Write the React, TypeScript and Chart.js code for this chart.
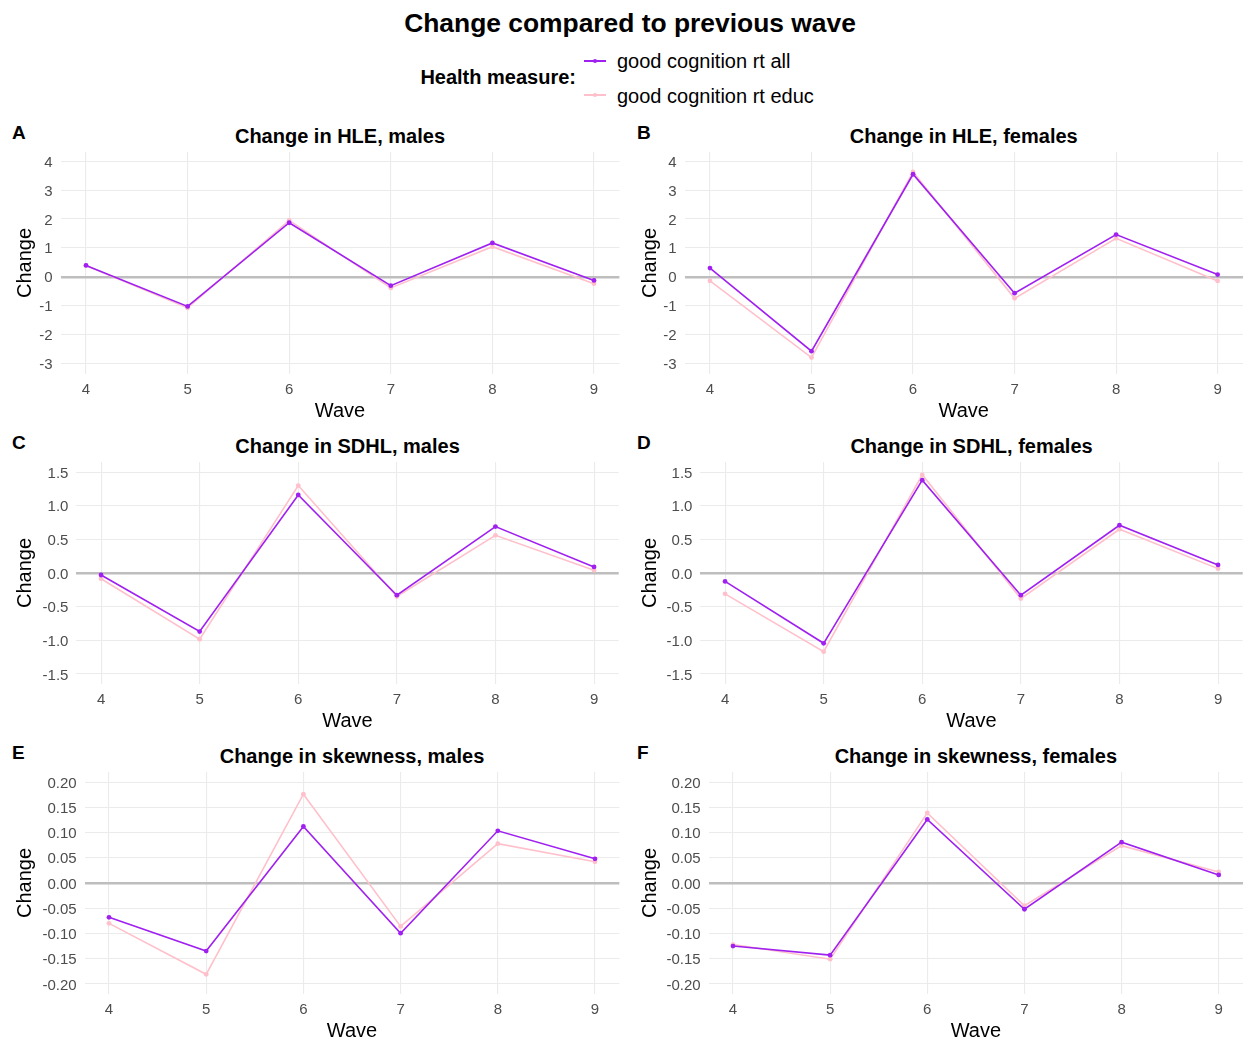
import React, { useEffect, useRef } from "react";
import { Chart, registerables } from "chart.js";

Chart.register(...registerables);

// ---- data ----
const waves = [4, 5, 6, 7, 8, 9];
const seriesNames = ["good cognition rt all", "good cognition rt educ"];

const hleMalesAll = [0.39, -1.03, 1.87, -0.31, 1.17, -0.13];
const hleMalesEduc = [0.39, -1.08, 1.95, -0.39, 1.04, -0.24];
const hleFemalesAll = [0.3, -2.58, 3.55, -0.57, 1.46, 0.075];
const hleFemalesEduc = [-0.145, -2.8, 3.63, -0.75, 1.33, -0.145];

const sdhlMalesAll = [-0.03, -0.87, 1.16, -0.33, 0.69, 0.09];
const sdhlMalesEduc = [-0.085, -0.985, 1.3, -0.35, 0.56, 0.04];
const sdhlFemalesAll = [-0.125, -1.045, 1.38, -0.33, 0.71, 0.12];
const sdhlFemalesEduc = [-0.31, -1.17, 1.46, -0.38, 0.65, 0.065];

const skewMalesAll = [-0.068, -0.135, 0.112, -0.0995, 0.1035, 0.048];
const skewMalesEduc = [-0.08, -0.181, 0.176, -0.086, 0.078, 0.042];
const skewFemalesAll = [-0.125, -0.143, 0.126, -0.052, 0.081, 0.016];
const skewFemalesEduc = [-0.122, -0.151, 0.139, -0.045, 0.074, 0.022];

const hleTicks = [-3, -2, -1, 0, 1, 2, 3, 4];
const sdhlTicks = [-1.5, -1, -0.5, 0, 0.5, 1, 1.5];
const skewTicks = [-0.2, -0.15, -0.1, -0.05, 0, 0.05, 0.1, 0.15, 0.2];

// ---- styling ----
const FONT = '"Liberation Sans", Arial, sans-serif';
const COLORS = ["#A020F0", "#FFC0CB"];
const GRID = "#EBEBEB";
const ZERO = "#BEBEBE";
const TICK_COLOR = "#4D4D4D";

const ROW_TOP = [152.3, 462.3, 772.3];
const ROW_BOTTOM = [373.3, 683.3, 993.3];
const COL_X = [0, 622];
const COL_W = [622, 621];
const X_AXIS_H = 51;
const PAD_TOP = 4;

type PanelDef = {
  tag: string;
  title: string;
  all: number[];
  educ: number[];
  ticks: number[];
  decimals: number;
  yMin: number;
  yMax: number;
  row: number;
  col: number;
  plotLeft: number;
  plotRight: number;
  padLeft: number;
};

const panels: PanelDef[] = [
  { tag: "A", title: "Change in HLE, males", all: hleMalesAll, educ: hleMalesEduc, ticks: hleTicks, decimals: 0, yMin: -3.37, yMax: 4.32, row: 0, col: 0, plotLeft: 60.6, plotRight: 619.4, padLeft: 9 },
  { tag: "B", title: "Change in HLE, females", all: hleFemalesAll, educ: hleFemalesEduc, ticks: hleTicks, decimals: 0, yMin: -3.37, yMax: 4.32, row: 0, col: 1, plotLeft: 62.6, plotRight: 621, padLeft: 12 },
  { tag: "C", title: "Change in SDHL, males", all: sdhlMalesAll, educ: sdhlMalesEduc, ticks: sdhlTicks, decimals: 1, yMin: -1.65, yMax: 1.65, row: 1, col: 0, plotLeft: 76.4, plotRight: 618.7, padLeft: 9 },
  { tag: "D", title: "Change in SDHL, females", all: sdhlFemalesAll, educ: sdhlFemalesEduc, ticks: sdhlTicks, decimals: 1, yMin: -1.65, yMax: 1.65, row: 1, col: 1, plotLeft: 78.4, plotRight: 620.7, padLeft: 12 },
  { tag: "E", title: "Change in skewness, males", all: skewMalesAll, educ: skewMalesEduc, ticks: skewTicks, decimals: 2, yMin: -0.22, yMax: 0.22, row: 2, col: 0, plotLeft: 84.7, plotRight: 619.3, padLeft: 9 },
  { tag: "F", title: "Change in skewness, females", all: skewFemalesAll, educ: skewFemalesEduc, ticks: skewTicks, decimals: 2, yMin: -0.22, yMax: 0.22, row: 2, col: 1, plotLeft: 86.7, plotRight: 621, padLeft: 12 },
];

function Panel({ def }: { def: PanelDef }) {
  const ref = useRef<HTMLCanvasElement | null>(null);
  const width = COL_W[def.col];
  const plotH = ROW_BOTTOM[def.row] - ROW_TOP[def.row];
  const height = Math.round(PAD_TOP + plotH + X_AXIS_H + 1);
  const left = COL_X[def.col];
  const top = ROW_TOP[def.row] - PAD_TOP;

  useEffect(() => {
    if (!ref.current) return;
    const makeSet = (label: string, values: number[], color: string) => ({
      label,
      data: waves.map((w, i) => ({ x: w, y: values[i] })),
      borderColor: color,
      backgroundColor: color,
      pointBackgroundColor: color,
      pointBorderColor: color,
      borderWidth: 1.6,
      pointRadius: 2.4,
      pointBorderWidth: 0,
      tension: 0,
      clip: 6,
    });
    const chart = new Chart(ref.current, {
      type: "line",
      data: {
        datasets: [
          makeSet(seriesNames[0], def.all, COLORS[0]),
          makeSet(seriesNames[1], def.educ, COLORS[1]),
        ],
      },
      options: {
        animation: false,
        responsive: false,
        events: [],
        layout: {
          autoPadding: false,
          padding: { left: def.padLeft, right: width - def.plotRight, top: PAD_TOP, bottom: 0 },
        },
        plugins: {
          legend: { display: false },
          tooltip: { enabled: false },
          title: { display: false },
        },
        scales: {
          x: {
            type: "linear",
            min: 3.75,
            max: 9.25,
            afterBuildTicks: (s: any) => {
              s.ticks = waves.map((v) => ({ value: v }));
            },
            afterFit: (s: any) => {
              s.height = X_AXIS_H;
              s.paddingLeft = 0;
              s.paddingRight = 0;
            },
            grid: { color: GRID, lineWidth: 1.1, drawTicks: false },
            border: { display: false },
            ticks: {
              padding: 7,
              color: TICK_COLOR,
              font: { family: FONT, size: 15 },
              callback: (v: any) => String(v),
            },
            title: {
              display: true,
              text: "Wave",
              color: "#000",
              font: { family: FONT, size: 20 },
              padding: { top: 0, bottom: 2 },
            },
          },
          y: {
            type: "linear",
            min: def.yMin,
            max: def.yMax,
            afterBuildTicks: (s: any) => {
              s.ticks = def.ticks.map((v) => ({ value: v }));
            },
            afterFit: (s: any) => {
              s.width = def.plotLeft - def.padLeft;
              s.paddingTop = 0;
              s.paddingBottom = 0;
            },
            grid: {
              drawTicks: false,
              color: (ctx: any) => (ctx.tick && ctx.tick.value === 0 ? ZERO : GRID),
              lineWidth: (ctx: any) => (ctx.tick && ctx.tick.value === 0 ? 2.4 : 1.1),
            },
            border: { display: false },
            ticks: {
              padding: 8,
              labelOffset: 1.5,
              color: TICK_COLOR,
              font: { family: FONT, size: 15 },
              callback: (v: any) => Number(v).toFixed(def.decimals),
            },
            title: {
              display: true,
              text: "Change",
              color: "#000",
              font: { family: FONT, size: 20 },
              padding: { top: 4, bottom: 4 },
            },
          },
        },
      } as any,
    });
    return () => chart.destroy();
  }, [def]);

  const tagLeft = def.col === 0 ? 12 : 637;
  const titleCenterY = ROW_TOP[def.row] - 16.3;
  const tagCenterY = ROW_TOP[def.row] - 19;

  return (
    <>
      <div
        style={{
          position: "absolute",
          left: left + tagLeft - COL_X[def.col],
          top: tagCenterY - 12,
          height: 24,
          lineHeight: "24px",
          fontFamily: FONT,
          fontWeight: 700,
          fontSize: 19,
          color: "#000",
        }}
      >
        {def.tag}
      </div>
      <div
        style={{
          position: "absolute",
          left: left + def.plotLeft,
          width: def.plotRight - def.plotLeft,
          top: titleCenterY - 12,
          height: 24,
          lineHeight: "24px",
          textAlign: "center",
          fontFamily: FONT,
          fontWeight: 700,
          fontSize: 20,
          color: "#000",
          whiteSpace: "nowrap",
        }}
      >
        {def.title}
      </div>
      <canvas
        ref={ref}
        width={width}
        height={height}
        style={{ position: "absolute", left, top, width, height }}
      />
    </>
  );
}

function LegendKey({ color, y }: { color: string; y: number }) {
  return (
    <>
      <div style={{ position: "absolute", left: 584, top: y - 0.8, width: 22, height: 1.6, background: color }} />
      <div
        style={{
          position: "absolute",
          left: 595 - 2.4,
          top: y - 2.4,
          width: 4.8,
          height: 4.8,
          borderRadius: "50%",
          background: color,
        }}
      />
    </>
  );
}

export default function App() {
  return (
    <div
      style={{
        position: "absolute",
        left: 0,
        top: 0,
        width: 1243,
        height: 1040,
        background: "#fff",
        overflow: "hidden",
        fontFamily: FONT,
      }}
    >
      <div
        style={{
          position: "absolute",
          left: 630,
          top: 23 - 16,
          height: 32,
          lineHeight: "32px",
          transform: "translateX(-50%)",
          fontWeight: 700,
          fontSize: 26.4,
          whiteSpace: "nowrap",
          color: "#000",
        }}
      >
        Change compared to previous wave
      </div>
      <div
        style={{
          position: "absolute",
          right: 1243 - 576,
          top: 77 - 13,
          height: 26,
          lineHeight: "26px",
          fontWeight: 700,
          fontSize: 20,
          whiteSpace: "nowrap",
          color: "#000",
        }}
      >
        Health measure:
      </div>
      <LegendKey color={COLORS[0]} y={61} />
      <LegendKey color={COLORS[1]} y={95} />
      {seriesNames.map((name, i) => (
        <div
          key={name}
          style={{
            position: "absolute",
            left: 617,
            top: (i === 0 ? 61 : 96) - 13,
            height: 26,
            lineHeight: "26px",
            fontSize: 20,
            whiteSpace: "nowrap",
            color: "#000",
          }}
        >
          {name}
        </div>
      ))}
      {panels.map((p) => (
        <Panel key={p.tag} def={p} />
      ))}
    </div>
  );
}
